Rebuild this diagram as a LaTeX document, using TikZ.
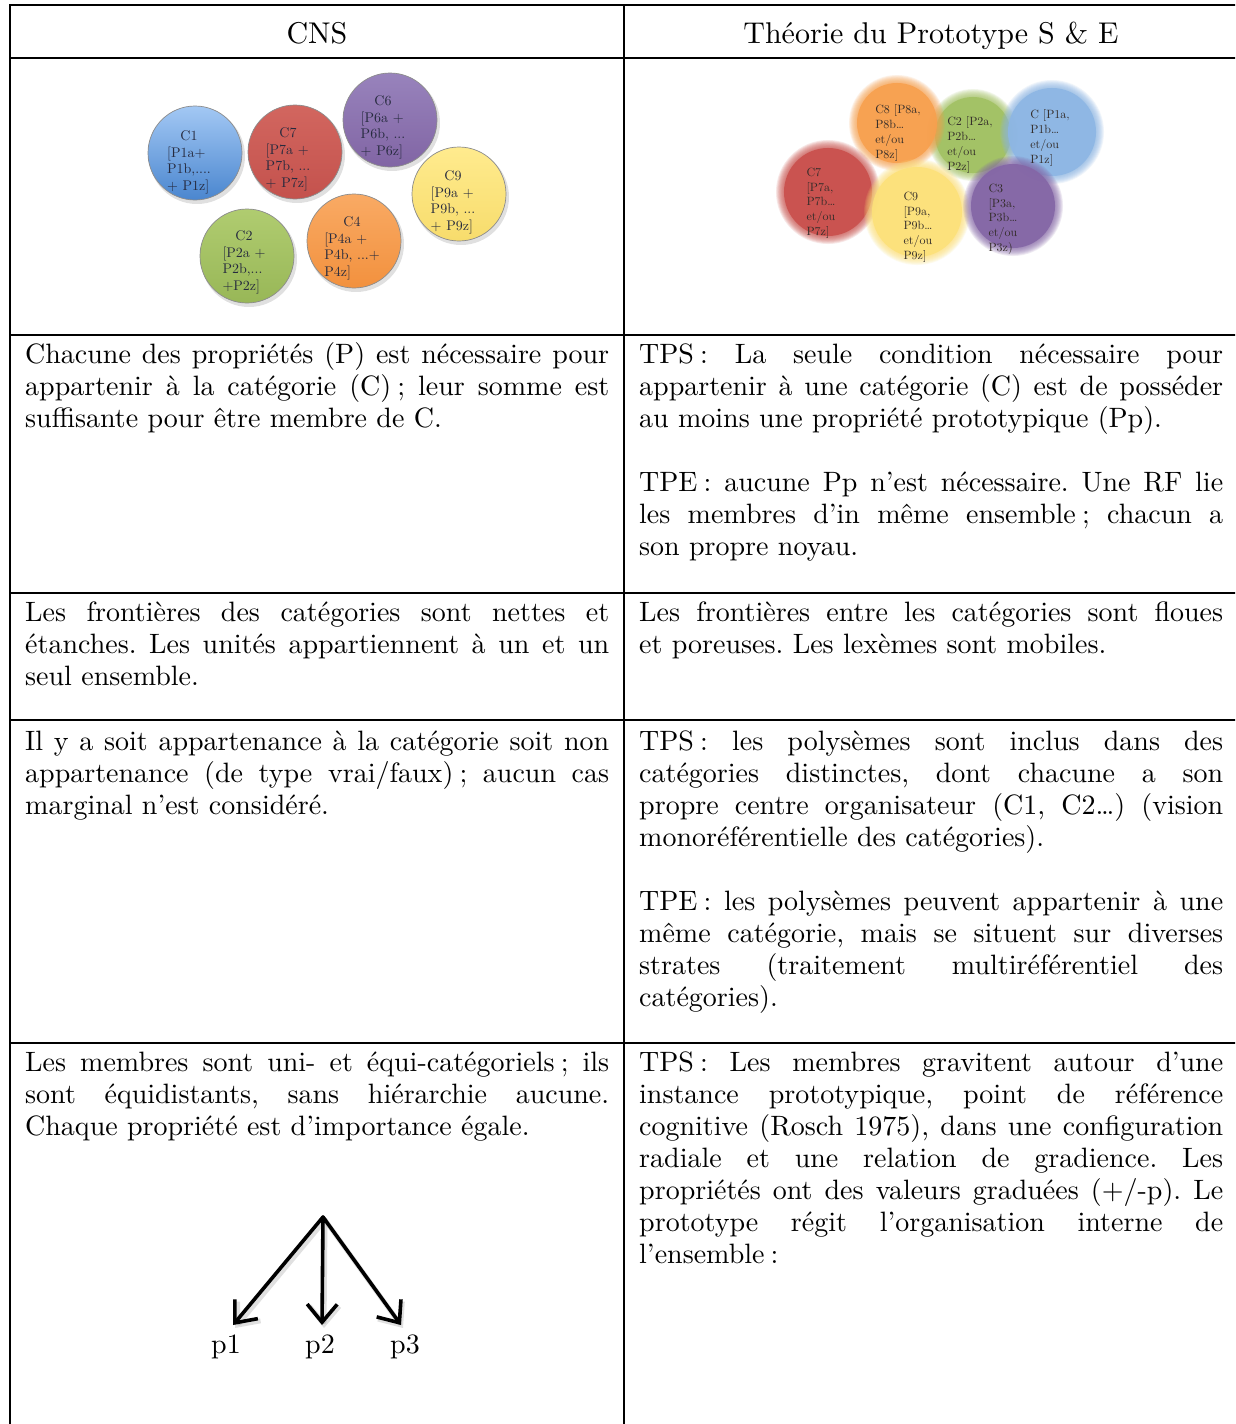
\documentclass[tikz,border=0pt]{standalone}
\usepackage{fontspec}
\setmainfont{lmroman10-regular.otf}
\usetikzlibrary{arrows.meta}
\frenchspacing
\definecolor{ltxt}{HTML}{262A3E}
\definecolor{rtxt}{HTML}{332C29}
\definecolor{bluetop}{HTML}{A3C8F4}
\definecolor{bluebot}{HTML}{4A86CF}
\definecolor{redtop}{HTML}{D2665F}
\definecolor{redbot}{HTML}{C4524D}
\definecolor{purtop}{HTML}{9883BC}
\definecolor{purbot}{HTML}{8165A4}
\definecolor{yeltop}{HTML}{FFEB8E}
\definecolor{yelbot}{HTML}{F7DC6C}
\definecolor{oratop}{HTML}{F9AA64}
\definecolor{orabot}{HTML}{F2913E}
\definecolor{gretop}{HTML}{B0CC70}
\definecolor{grebot}{HTML}{98B757}
\definecolor{sred}{HTML}{C9504C}
\definecolor{sora}{HTML}{F7A04E}
\definecolor{sgre}{HTML}{A2C163}
\definecolor{sblu}{HTML}{8DB6E4}
\definecolor{syel}{HTML}{FCE17A}
\definecolor{spur}{HTML}{8466A6}
\newcommand\fsp{\nobreak\hspace{0.22em}}
\begin{document}
\begin{tikzpicture}[x=1pt,y=-1pt,
  rule/.style={line width=2pt, black},
  body/.style={anchor=north west, inner sep=0pt, text width=584pt, align=justify, font=\fontsize{28}{32}\selectfont},
  head/.style={anchor=base, inner sep=0pt, font=\fontsize{30}{32}\selectfont},
  lcirc/.style={circle, minimum size=94pt, inner sep=0pt, draw=black!45, line width=0.7pt},
  ltext/.style={inner sep=0pt, text=ltxt, font=\fontsize{14}{16.6}\selectfont},
  rcirc/.style={circle, inner sep=0pt, opacity=0.9},
  rtext/.style={inner sep=0pt, text=rtxt, font=\fontsize{12}{14.8}\selectfont},
  arr/.style={line width=3.6pt, -{Straight Barb[length=18pt,width=30pt]}, line cap=round, line join=round},
  arrshadow/.style={line width=5pt, black, opacity=0.12, -{Straight Barb[length=18pt,width=30pt]}, line cap=round, line join=round},
  plabel/.style={inner sep=0pt, font=\fontsize{28}{30}\selectfont}
]
\useasboundingbox (0,0) rectangle (1235,1424);
\clip (0,0) rectangle (1235,1424);
\fill[white] (0,0) rectangle (1235,1424);

% ---------- table rules ----------
\foreach \yy in {5,58,335,593,720,1043} \draw[rule] (9,\yy) -- (1240,\yy);
\draw[rule] (10,4) -- (10,1430);
\draw[rule] (624,4) -- (624,1430);

% ---------- header ----------
\node[head] (hcns) at (317,43) {CNS};
\node[head] (htp) at (931,43) {Théorie du Prototype S \& E};

% ---------- left circles ----------
\foreach \cx/\cy in {195/153,295/152,390/120,459/194,354/241,247/256}
  \fill[black, opacity=0.12] (\cx+2,\cy+3) circle[radius=48pt];
\node[lcirc, top color=bluetop, bottom color=bluebot] (c1) at (195,153) {};
\node[lcirc, top color=redtop, bottom color=redbot] (c7) at (295,152) {};
\node[lcirc, top color=purtop, bottom color=purbot] (c6) at (390,120) {};
\node[lcirc, top color=yeltop, bottom color=yelbot] (c9) at (459,194) {};
\node[lcirc, top color=oratop, bottom color=orabot] (c4) at (354,241) {};
\node[lcirc, top color=gretop, bottom color=grebot] (c2) at (247,256) {};

\node[ltext] (c1t) at (189,162) {\begin{tabular}{@{}l@{}}\multicolumn{1}{@{}c@{}}{C1}\\{}[P1a+\\P1b,....\\+ P1z]\end{tabular}};
\node[ltext] (c7t) at (288,159) {\begin{tabular}{@{}l@{}}\multicolumn{1}{@{}c@{}}{C7}\\{}[P7a +\\P7b, ...\\+ P7z]\end{tabular}};
\node[ltext] (c6t) at (383,127) {\begin{tabular}{@{}l@{}}\multicolumn{1}{@{}c@{}}{C6}\\{}[P6a +\\P6b, ...\\+ P6z]\end{tabular}};
\node[ltext] (c9t) at (453,202) {\begin{tabular}{@{}l@{}}\multicolumn{1}{@{}c@{}}{C9}\\{}[P9a +\\P9b, ...\\+ P9z]\end{tabular}};
\node[ltext] (c4t) at (352,248) {\begin{tabular}{@{}l@{}}\multicolumn{1}{@{}c@{}}{C4}\\{}[P4a +\\P4b, ...+\\P4z]\end{tabular}};
\node[ltext] (c2t) at (244,262) {\begin{tabular}{@{}l@{}}\multicolumn{1}{@{}c@{}}{C2}\\{}[P2a +\\P2b,...\\+P2z]\end{tabular}};

% ---------- right soft circles ----------
\foreach \cx/\cy/\ro/\col/\nm in {973/135/46/sgre/r2, 897/123/48/sora/r8, 828/192/52/sred/r7, 917/212/53/syel/r9, 1052/132/52/sblu/r1, 1013/206/50/spur/r3}{
  \foreach \k in {0,...,9}
    \fill[\col, opacity=0.13] (\cx,\cy) circle[radius={(\ro-\k*0.9)*1pt}];
  \node[rcirc, fill=\col, minimum size={(2*\ro-16)*1pt}] (\nm) at (\cx,\cy) {};
}
\node[rtext] (r8t) at (898,133) {\begin{tabular}{@{}l@{}}C8 [P8a,\\P8b…\\et/ou\\P8z]\end{tabular}};
\node[rtext] (r2t) at (970,145) {\begin{tabular}{@{}l@{}}C2 [P2a,\\P2b…\\et/ou\\P2z]\end{tabular}};
\node[rtext] (r1t) at (1050,138) {\begin{tabular}{@{}l@{}}C [P1a,\\P1b…\\et/ou\\P1z]\end{tabular}};
\node[rtext] (r7t) at (821,203) {\begin{tabular}{@{}l@{}}C7\\{}[P7a,\\P7b…\\et/ou\\P7z]\end{tabular}};
\node[rtext] (r9t) at (918,227) {\begin{tabular}{@{}l@{}}C9\\{}[P9a,\\P9b…\\et/ou\\P9z]\end{tabular}};
\node[rtext] (r3t) at (1003,219) {\begin{tabular}{@{}l@{}}C3\\{}[P3a,\\P3b…\\et/ou\\P3z)\end{tabular}};

% ---------- row 3 ----------
\node[body] (l3) at (25,341) {\strut Chacune des propriétés (P) est nécessaire pour\linebreak appartenir à la catégorie (C)\fsp; leur somme est\linebreak suffisante pour être membre de C.};
\node[body] (r3a) at (639,341) {\strut TPS\fsp: La seule condition nécessaire pour\linebreak appartenir à une catégorie (C) est de posséder\linebreak au moins une propriété prototypique (Pp).};
\node[body] (r3b) at (639,469) {\strut TPE\fsp: aucune Pp n’est nécessaire. Une RF lie\linebreak les membres d’in même ensemble\fsp; chacun a\linebreak son propre noyau.};

% ---------- row 4 ----------
\node[body] (l4) at (25,599) {\strut Les frontières des catégories sont nettes et\linebreak étanches. Les unités appartiennent à un et un\linebreak seul ensemble.};
\node[body] (r4) at (639,599) {\strut Les frontières entre les catégories sont floues\linebreak et poreuses. Les lexèmes sont mobiles.};

% ---------- row 5 ----------
\node[body] (l5) at (25,728) {\strut Il y a soit appartenance à la catégorie soit non\linebreak appartenance (de type vrai/faux)\fsp; aucun cas\linebreak marginal n’est considéré.};
\node[body] (r5a) at (639,728) {\strut TPS\fsp: les polysèmes sont inclus dans des\linebreak catégories distinctes, dont chacune a son\linebreak propre centre organisateur (C1, C2…) (vision\linebreak monoréférentielle des catégories).};
\node[body] (r5b) at (639,888) {\strut TPE\fsp: les polysèmes peuvent appartenir à une\linebreak même catégorie, mais se situent sur diverses\linebreak strates (traitement multiréférentiel des\linebreak catégories).};

% ---------- row 6 ----------
\node[body] (l6) at (25,1049) {\strut Les membres sont uni- et équi-catégoriels\fsp; ils\linebreak sont équidistants, sans hiérarchie aucune.\linebreak Chaque propriété est d’importance égale.};
\node[body] (r6) at (639,1049) {\strut TPS\fsp: Les membres gravitent autour d’une\linebreak instance prototypique, point de référence\linebreak cognitive (Rosch 1975), dans une configuration\linebreak radiale et une relation de gradience. Les\linebreak propriétés ont des valeurs graduées (+/-p). Le\linebreak prototype régit l’organisation interne de\linebreak l’ensemble\fsp:};

% ---------- tree of arrows ----------
\coordinate (apex) at (323,1217);
\coordinate (t1) at (233,1325);
\coordinate (t2) at (322,1325);
\coordinate (t3) at (401,1325);
\coordinate (apexs) at (325,1220);
\coordinate (t1s) at (235,1328);
\coordinate (t2s) at (324,1328);
\coordinate (t3s) at (403,1328);
\draw[arrshadow] (apexs) -- (t1s);
\draw[arrshadow] (apexs) -- (t2s);
\draw[arrshadow] (apexs) -- (t3s);
\draw[arr] (apex) -- (t1);
\draw[arr] (apex) -- (t2);
\draw[arr] (apex) -- (t3);
\node[plabel] (p1) at (226,1347) {p1};
\node[plabel] (p2) at (320,1347) {p2};
\node[plabel] (p3) at (405,1347) {p3};
\end{tikzpicture}
\end{document}
